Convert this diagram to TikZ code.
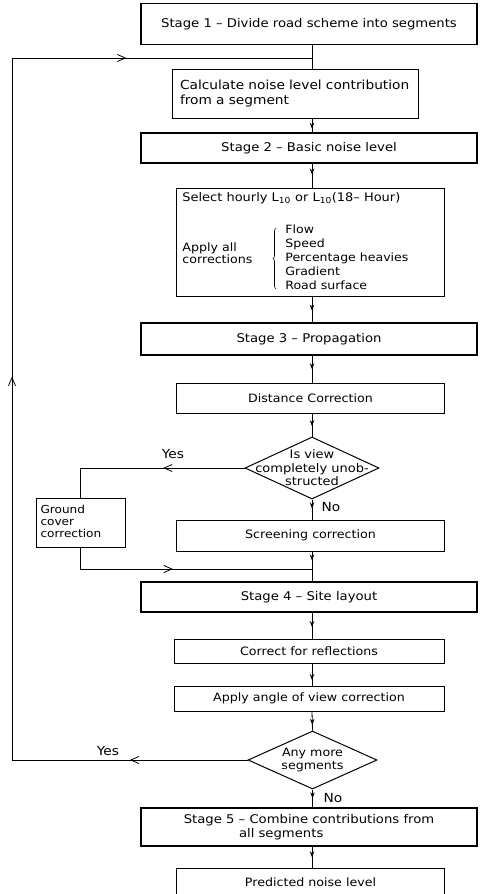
\documentclass[tikz,border=0pt]{standalone}
\usepackage{fontspec}
\setmainfont{DejaVu Sans}[FakeStretch=1.1]
\usepackage{tikz}
\usetikzlibrary{shapes.geometric}
\usetikzlibrary{positioning}
\usetikzlibrary{calc}
\usetikzlibrary{arrows.meta}
\usetikzlibrary{decorations.markings}
\usetikzlibrary{decorations.pathreplacing}
\tikzset{smalltip/.tip={Stealth[length=6pt,width=4.5pt,inset=2pt]},
  bigtip/.tip={Straight Barb[length=8pt,width=7pt]},
  stagebox/.style={draw,line width=1.7pt,minimum width=336pt,minimum height=#1,inner sep=0pt,font=\fontsize{12}{14}\selectfont},
  workbox/.style={draw,line width=1pt,minimum width=268pt,minimum height=#1,inner sep=0pt,font=\fontsize{11.5}{14}\selectfont},
  decision/.style={diamond,draw,line width=1pt,inner sep=0pt},
  lbl/.style={inner sep=0pt,font=\fontsize{12.5}{14}\selectfont},
  flowline/.style={postaction={decorate},decoration={markings,mark=at position #1 with {\arrow{smalltip}}}},
  flowline/.default=0.5}

\begin{document}
\begin{tikzpicture}[x=1pt,y=-1pt,line width=0.8pt]
\useasboundingbox (0,0) rectangle (480,894);
\coordinate (fl) at (312,0);
\coordinate (top) at (312,58);
\coordinate (merge) at (312,569);
\coordinate (loop) at (12,0);

% stage 1 and 2
\node (s1) at (309,24) [stagebox=41pt] {Stage 1 -- Divide road scheme into segments};
\node (calc) at (295,93.5) [workbox=49pt, minimum width=246pt, text width=230pt, align=left, inner sep=8pt, font=\fontsize{12.5}{14.5}\selectfont] {Calculate noise level contribution\\from a segment};
\node (s2) at (309,148) [stagebox=30pt] {Stage 2 -- Basic noise level};
\node (sel) at (310.5,242) [workbox=108pt] {};
\node (seltxt) at (182,198) [anchor=west, inner sep=0pt, font=\fontsize{11.8}{14}\selectfont] {Select hourly L\textsubscript{10} or L\textsubscript{10}(18-- Hour)};
\node (apply) at (182,253) [anchor=west, align=left, inner sep=0pt, font=\fontsize{11.5}{12.5}\selectfont] {Apply all\\corrections};
\node (corr) at (285,257) [anchor=west, align=left, inner sep=0pt, font=\fontsize{11.4}{14}\selectfont] {Flow\\Speed\\Percentage heavies\\Gradient\\Road surface};
\draw[line width=0.6pt,decorate,decoration={brace,amplitude=3pt}] ($(corr.south west)+(-9,-1)$) -- ($(corr.north west)+(-9,4)$);

% stage 3
\node (s3) at (309,339) [stagebox=32pt] {Stage 3 -- Propagation};
\node (dist) at (310.5,398) [workbox=30pt] {Distance Correction};
\node (d1) at (312,468) [decision, minimum width=134pt, minimum height=62pt] {};
\node (d1txt) at (d1) [align=center, font=\fontsize{11.8}{13.5}\selectfont] {Is view\\completely unob-\\structed};
\node (ground) at (80.5,522.5) [workbox=49pt, minimum width=89pt, text width=80pt, align=left, inner sep=4pt, font=\fontsize{11}{12}\selectfont] {Ground\\cover\\correction\vphantom{p}};
\node (scr) at (310.5,535.5) [workbox=31pt] {Screening correction};

% stage 4
\node (s4) at (309,597) [stagebox=30pt] {Stage 4 -- Site layout};
\node (refl) at (309,651) [workbox=24pt, minimum width=270pt] {Correct for reflections};
\node (angle) at (309,698.5) [workbox=25pt, minimum width=270pt] {Apply angle of view correction};
\node (d2) at (312.5,760) [decision, minimum width=129pt, minimum height=58pt] {};
\node (d2txt) at (d2) [align=center, font=\fontsize{11.5}{13.5}\selectfont] {Any more\\segments};

% stage 5
\node (s5) at (309,827) [stagebox=38pt, align=left] {Stage 5 -- Combine contributions from\\\hspace*{4.6em}all segments};
\node (pred) at (310.5,882) [workbox=28pt] {Predicted noise level};

\node (yes1) at (173,454) [lbl] {Yes};
\node (no1) at (331,507) [lbl] {No};
\node (yes2) at (108,751) [lbl] {Yes};
\node (no2) at (333,798) [lbl] {No};

\draw (s1.south -| fl) -- (calc.north -| fl);
\draw[flowline=0.75] (calc.south -| fl) -- (s2.north -| fl);
\draw[flowline=0.45] (s2.south -| fl) -- (sel.north -| fl);
\draw[flowline=0.55] (sel.south -| fl) -- (s3.north -| fl);
\draw[flowline=0.5] (s3.south -| fl) -- (dist.north -| fl);
\draw[flowline=0.55] (dist.south -| fl) -- (d1.north);
\draw[flowline=0.45] (d1.south) -- (scr.north -| fl);
\draw[flowline=0.3] (scr.south -| fl) -- (s4.north -| fl);
\draw[flowline=0.55] (s4.south -| fl) -- (refl.north -| fl);
\draw[flowline=0.75] (refl.south -| fl) -- (angle.north -| fl);
\draw[flowline=0.7] (angle.south -| fl) -- (d2.north);
\draw[flowline=0.5] (d2.south) -- (s5.north -| d2);
\draw[flowline=0.5] (s5.south -| fl) -- (pred.north -| fl);

% yes branches
\draw[postaction={decorate},decoration={markings,mark=at position 0.42 with {\arrow{bigtip}}}]
  (d1.west) -- (d1.west -| ground) -- (ground.north);
\draw[postaction={decorate},decoration={markings,mark=at position 0.45 with {\arrow{bigtip}}}]
  (ground.south) -- (ground.south |- merge) -- (merge);
\draw[postaction={decorate},decoration={markings,
    mark=at position 0.095 with {\arrow{bigtip}},
    mark=at position 0.5 with {\arrow{bigtip}},
    mark=at position 0.85 with {\arrow{bigtip}}}]
  (d2.west) -- (d2.west -| loop) -- (loop |- top) -- (top);

\end{tikzpicture}
\end{document}
